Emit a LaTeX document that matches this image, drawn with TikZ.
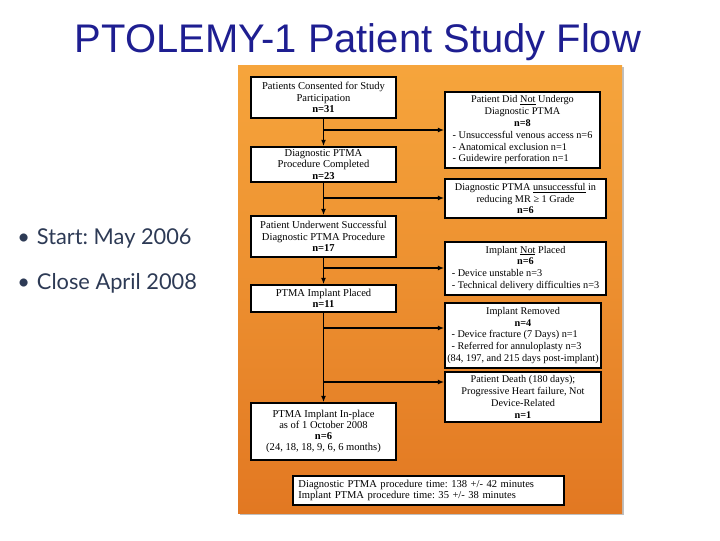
\documentclass[tikz,border=0pt]{standalone}
\usepackage{fontspec}
\setmainfont{Liberation Serif}
\newfontfamily\titlefont{Liberation Sans}
\newfontfamily\bulletfont{Lato}
\usepackage{xcolor}
\usetikzlibrary{positioning,arrows.meta,calc}
\definecolor{titleblue}{RGB}{30,30,145}
\definecolor{bulletslate}{RGB}{45,58,85}
\definecolor{panelTop}{RGB}{246,165,60}
\definecolor{panelBot}{RGB}{226,120,34}
\frenchspacing
% underline that keeps its own width
\newcommand{\undl}[1]{\setbox0\hbox{#1}\rlap{\rule[-1.3pt]{\wd0}{0.4pt}}\box0\relax}
% centred heading row inside a left-aligned list
\newcommand{\hd}[1]{\multicolumn{1}{@{}c@{}}{#1}}

\begin{document}
\begin{tikzpicture}[
    x=0.025cm, y=-0.025cm,
    box/.style={draw, line width=1.1pt, fill=white, inner sep=2pt,
                align=center, font=\fontsize{7.5}{8}\selectfont},
    lbox/.style={box, minimum width=3.625cm},
    rbox/.style={box, font=\fontsize{7.3}{8.4}\selectfont},
    arr/.style={-{Latex[length=4.5pt,width=3.5pt]}, line width=1.1pt},
    bullet/.style={anchor=west, text=bulletslate, inner sep=0pt,
                   font=\bulletfont\fontsize{15.5}{18}\selectfont},
  ]
  \useasboundingbox (0,0) rectangle (720,540);

  % Title
  \node[text=titleblue, font=\titlefont\fontsize{28.4}{30}\selectfont] (title) at (358,42)
        {PTOLEMY-1 Patient Study Flow};

  % Bullets (left)
  \node[bullet] (start) at (17,238) {\textbullet\hspace{5pt}Start: May 2006};
  \node[bullet] (close) at (17,283) {\textbullet\hspace{5pt}Close April 2008};

  % Orange panel with shadow
  \fill[black!25] (240,67) rectangle (624,515);
  \shade[top color=panelTop, bottom color=panelBot] (238,65) rectangle (622,513);

  % Main column (LEFT)
  \node[lbox, minimum height=1.025cm] (consent) at (323.5,97.5)
        {Patients Consented for Study\\Participation\\\textbf{n=31}};
  \node[lbox, minimum height=0.875cm] (proc) at (323.5,164.5)
        {Diagnostic PTMA\\Procedure Completed\\\textbf{n=23}};
  \node[lbox, minimum height=1.025cm] (success) at (323.5,236.5)
        {Patient Underwent Successful\\Diagnostic PTMA Procedure\\\textbf{n=17}};
  \node[lbox, minimum height=0.675cm] (placed) at (323.5,298.5)
        {PTMA Implant Placed\\\textbf{n=11}};
  \node[lbox, minimum height=1.425cm] (inplace) at (323.5,431.5)
        {PTMA Implant In-place\\as of 1 October 2008\\\textbf{n=6}\\(24, 18, 18, 9, 6, 6 months)};

  % Exclusions (RIGHT column)
  \node[rbox, minimum width=3.875cm, minimum height=1.85cm] (noptma) at (522.5,130)
        {\begin{tabular}{@{}l@{}}
           \hd{Patient Did \undl{Not} Undergo}\\ \hd{Diagnostic PTMA}\\ \hd{\textbf{n=8}}\\
           - Unsuccessful venous access n=6\\ - Anatomical exclusion n=1\\ - Guidewire perforation n=1
         \end{tabular}};
  \node[rbox, minimum width=4.025cm, minimum height=0.975cm] (unsucc) at (525.5,198.5)
        {Diagnostic PTMA \undl{unsuccessful} in\\reducing MR ≥ 1 Grade\\\textbf{n=6}};
  \node[rbox, minimum width=4.025cm, minimum height=1.275cm] (notplaced) at (525.5,268.5)
        {\begin{tabular}{@{}l@{}}
           \hd{Implant \undl{Not} Placed}\\ \hd{\textbf{n=6}}\\
           - Device unstable n=3\\ - Technical delivery difficulties n=3
         \end{tabular}};
  \node[rbox, minimum width=3.9cm, minimum height=1.575cm, inner xsep=0.5pt] (removed) at (523,335.5)
        {\begin{tabular}{@{}l@{}}
           \hd{Implant Removed}\\ \hd{\textbf{n=4}}\\
           \hspace*{3pt}- Device fracture (7 Days) n=1\\ \hspace*{3pt}- Referred for annuloplasty n=3\\
           (84, 197, and 215 days post-implant)
         \end{tabular}};
  \node[rbox, minimum width=3.9cm, minimum height=1.25cm] (death) at (523,397)
        {Patient Death (180 days);\\Progressive Heart failure, Not\\Device-Related\\\textbf{n=1}};

  % Procedure times (bottom)
  \node[box, align=left, text width=6.5cm, minimum height=0.725cm, inner xsep=4pt] (times) at (428.5,490.5)
        {Diagnostic PTMA procedure time: 138 +/- 42 minutes\\Implant PTMA procedure time: 35 +/- 38 minutes};

  % Branch points on the trunk
  \coordinate (b1) at (324,130);
  \coordinate (b2) at (324,198);
  \coordinate (b3) at (324,268);
  \coordinate (b4) at (324,328);
  \coordinate (b5) at (324,382);

  % Trunk arrows
  \draw[arr] (consent.south) -- (proc.north);
  \draw[arr] (proc.south) -- (success.north);
  \draw[arr] (success.south) -- (placed.north);
  \draw[arr] (placed.south) -- (inplace.north);

  % Side arrows
  \draw[arr] (b1) -- (noptma.west |- b1);
  \draw[arr] (b2) -- (unsucc.west |- b2);
  \draw[arr] (b3) -- (notplaced.west |- b3);
  \draw[arr] (b4) -- (removed.west |- b4);
  \draw[arr] (b5) -- (death.west |- b5);
\end{tikzpicture}
\end{document}
